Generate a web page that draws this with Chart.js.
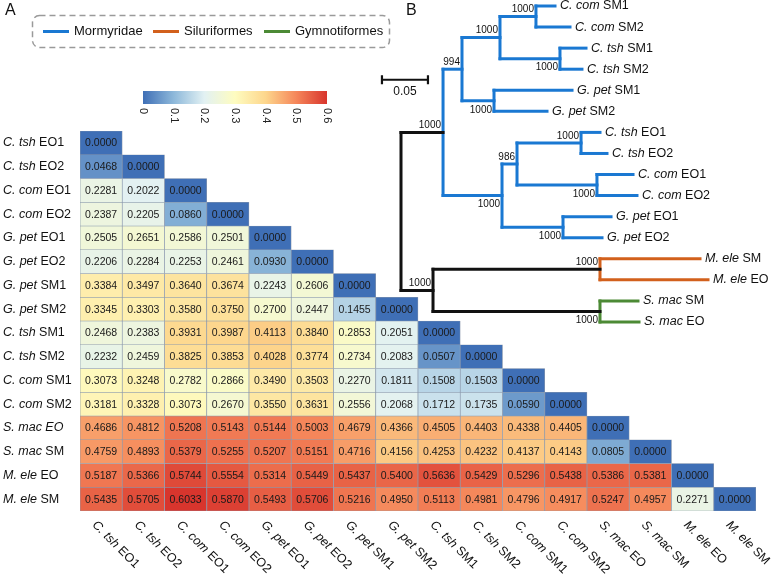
<!DOCTYPE html>
<html>
<head>
<meta charset="utf-8">
<script src="https://cdn.jsdelivr.net/npm/chart.js@4.4.1/dist/chart.umd.min.js"></script>
<style>
html, body { margin: 0; padding: 0; background: #fff; }
#wrap { position: relative; width: 772px; height: 575px; }
#wrap canvas { position: absolute; left: 0; top: 0; }
</style>
</head>
<body>
<div id="wrap">
    <canvas id="heat" width="772" height="575"></canvas>
    <canvas id="tree" width="772" height="340"></canvas>
</div>
<script>
// ---------- data: heatmap (panel A) ----------
var samples = ['C. tsh EO1', 'C. tsh EO2', 'C. com EO1', 'C. com EO2', 'G. pet EO1', 'G. pet EO2',
    'G. pet SM1', 'G. pet SM2', 'C. tsh SM1', 'C. tsh SM2', 'C. com SM1', 'C. com SM2',
    'S. mac EO', 'S. mac SM', 'M. ele EO', 'M. ele SM'];
var rowAllItalic = ['S. mac EO'];

var dist = [
    [0.0000],
    [0.0468, 0.0000],
    [0.2281, 0.2022, 0.0000],
    [0.2387, 0.2205, 0.0860, 0.0000],
    [0.2505, 0.2651, 0.2586, 0.2501, 0.0000],
    [0.2206, 0.2284, 0.2253, 0.2461, 0.0930, 0.0000],
    [0.3384, 0.3497, 0.3640, 0.3674, 0.2243, 0.2606, 0.0000],
    [0.3345, 0.3303, 0.3580, 0.3750, 0.2700, 0.2447, 0.1455, 0.0000],
    [0.2468, 0.2383, 0.3931, 0.3987, 0.4113, 0.3840, 0.2853, 0.2051, 0.0000],
    [0.2232, 0.2459, 0.3825, 0.3853, 0.4028, 0.3774, 0.2734, 0.2083, 0.0507, 0.0000],
    [0.3073, 0.3248, 0.2782, 0.2866, 0.3490, 0.3503, 0.2270, 0.1811, 0.1508, 0.1503, 0.0000],
    [0.3181, 0.3328, 0.3073, 0.2670, 0.3550, 0.3631, 0.2556, 0.2068, 0.1712, 0.1735, 0.0590, 0.0000],
    [0.4686, 0.4812, 0.5208, 0.5143, 0.5144, 0.5003, 0.4679, 0.4366, 0.4505, 0.4403, 0.4338, 0.4405, 0.0000],
    [0.4759, 0.4893, 0.5379, 0.5255, 0.5207, 0.5151, 0.4716, 0.4156, 0.4253, 0.4232, 0.4137, 0.4143, 0.0805, 0.0000],
    [0.5187, 0.5366, 0.5744, 0.5554, 0.5314, 0.5449, 0.5437, 0.5400, 0.5636, 0.5429, 0.5296, 0.5438, 0.5386, 0.5381, 0.0000],
    [0.5435, 0.5705, 0.6033, 0.5870, 0.5493, 0.5706, 0.5216, 0.4950, 0.5113, 0.4981, 0.4796, 0.4917, 0.5247, 0.4957, 0.2271, 0.0000]
];

var colorbarTicks = [0, 0.1, 0.2, 0.3, 0.4, 0.5, 0.6];
var cmapStops = [0, 0.1, 0.2, 0.3, 0.4, 0.5, 0.6];
var cmapColors = ['#3f6fb6', '#8db8da', '#e2f1f3', '#fefcc0', '#fdd68c', '#f5865a', '#d8352d'];

// ---------- data: tree (panel B) ----------
var tipNames = ['C. com SM1', 'C. com SM2', 'C. tsh SM1', 'C. tsh SM2', 'G. pet SM1', 'G. pet SM2',
    'C. tsh EO1', 'C. tsh EO2', 'C. com EO1', 'C. com EO2', 'G. pet EO1', 'G. pet EO2',
    'M. ele SM', 'M. ele EO', 'S. mac SM', 'S. mac EO'];
var tipParent = ['ccomSM', 'ccomSM', 'ctshSM', 'ctshSM', 'gpetSM', 'gpetSM', 'ctshEO', 'ctshEO',
    'ccomEO', 'ccomEO', 'gpetEO', 'gpetEO', 'mele', 'mele', 'smac', 'smac'];
var tipDepth = [0.1674, 0.1837, 0.2011, 0.1967, 0.1859, 0.1587, 0.2163, 0.2239,
    0.2522, 0.2565, 0.2283, 0.2185, 0.3250, 0.3337, 0.2576, 0.2587];

var nodeNames = ['root', 'out', 'mele', 'smac', 'morm', 'sm', 'smCC', 'ccomSM', 'ctshSM', 'gpetSM', 'eo', 'eo986', 'ctshEO', 'ccomEO', 'gpetEO'];
var nodeParent = [null, 'root', 'out', 'out', 'root', 'morm', 'sm', 'smCC', 'smCC', 'sm', 'morm', 'eo', 'eo986', 'eo986', 'eo'];
var nodeDepth = [0, 0.0348, 0.2163, 0.2163, 0.0457, 0.0663, 0.1076, 0.1467, 0.1728, 0.1011, 0.1098, 0.1261, 0.1957, 0.2130, 0.1761];
var nodeSupport = [null, 1000, 1000, 1000, 1000, 994, 1000, 1000, 1000, 1000, 1000, 986, 1000, 1000, 1000];
var supportSide = [null, 'up', 'up', 'down', 'up', 'up', 'up', 'up', 'down', 'down', 'down', 'up', 'up', 'down', 'down'];

var clades = ['Mormyridae', 'Siluriformes', 'Gymnotiformes'];
var cladeNode = ['morm', 'mele', 'smac'];
var cladeColors = ['#1a78d2', '#d2601c', '#4c8a35'];

var scaleBarLen = 0.05;
var scaleBarPos = [-0.0207, 3.5];

var FONT = "'Liberation Sans', Arial, sans-serif";

// ---------- helpers ----------
function hexRgb(h) {
    return [parseInt(h.substr(1, 2), 16), parseInt(h.substr(3, 2), 16), parseInt(h.substr(5, 2), 16)];
}
function heatColor(v) {
    var i = 0;
    while (i < cmapStops.length - 2 && v > cmapStops[i + 1]) i++;
    var t = (v - cmapStops[i]) / (cmapStops[i + 1] - cmapStops[i]);
    t = Math.max(0, Math.min(1, t));
    var a = hexRgb(cmapColors[i]), b = hexRgb(cmapColors[i + 1]);
    return 'rgb(' + a.map(function (c, k) { return Math.round(c + (b[k] - c) * t); }).join(',') + ')';
}
// "C. tsh EO1" -> italic "C. tsh" + upright " EO1"
function drawName(ctx, text, x, y, size, allItalic) {
    var cut = text.lastIndexOf(' ');
    var head = allItalic ? text : text.slice(0, cut);
    var tail = allItalic ? '' : text.slice(cut);
    ctx.font = 'italic ' + size + 'px ' + FONT;
    ctx.fillText(head, x, y);
    var w = ctx.measureText(head).width;
    ctx.font = size + 'px ' + FONT;
    ctx.fillText(tail, x + w, y);
}

// ---------- panel A: heatmap ----------
var heatSets = samples.map(function (name, i) {
    return {
        label: name,
        data: samples.map(function (c, j) { return j <= i ? [i, i + 1] : null; }),
        backgroundColor: function (ctx) {
            var v = dist[i][ctx.dataIndex];
            return v === undefined ? 'rgba(0,0,0,0)' : heatColor(v);
        },
        borderColor: '#8d9aae',
        borderWidth: 0.7,
        borderSkipped: false,
        grouped: false,
        barPercentage: 1,
        categoryPercentage: 1
    };
});

var heatDecor = {
    id: 'heatDecor',
    afterDatasetsDraw: function (chart) {
        var ctx = chart.ctx;
        ctx.save();
        ctx.fillStyle = '#1a1a1a';
        ctx.font = '10.5px ' + FONT;
        ctx.textAlign = 'center';
        ctx.textBaseline = 'middle';
        chart.data.datasets.forEach(function (ds, i) {
            chart.getDatasetMeta(i).data.forEach(function (el, j) {
                if (j > i) return;
                ctx.fillText(dist[i][j].toFixed(4), el.x, (el.y + el.base) / 2 + 0.5);
            });
        });
        ctx.restore();
    },
    afterDraw: function (chart) {
        var ctx = chart.ctx, xs = chart.scales.x, ys = chart.scales.y;
        ctx.save();
        ctx.fillStyle = '#111';
        ctx.textBaseline = 'middle';
        ctx.textAlign = 'left';

        // row labels
        samples.forEach(function (name, i) {
            drawName(ctx, name, 3, ys.getPixelForValue(i + 0.5), 12.5, rowAllItalic.indexOf(name) !== -1);
        });
        // column labels, rotated
        samples.forEach(function (name, j) {
            ctx.save();
            ctx.translate(xs.getPixelForValue(j) - 7, chart.chartArea.bottom + 12);
            ctx.rotate(Math.PI / 4);
            drawName(ctx, name, 0, 0, 12.5, false);
            ctx.restore();
        });

        // colour bar
        var cbL = 143, cbR = 327, cbT = 91, cbB = 104;
        var g = ctx.createLinearGradient(cbL, 0, cbR, 0);
        cmapStops.forEach(function (s, k) { g.addColorStop(s / 0.6, cmapColors[k]); });
        ctx.fillStyle = g;
        ctx.fillRect(cbL, cbT, cbR - cbL, cbB - cbT);
        ctx.fillStyle = '#222';
        ctx.font = '11px ' + FONT;
        colorbarTicks.forEach(function (t) {
            ctx.save();
            ctx.translate(cbL + (cbR - cbL) * t / 0.6, cbB + 4);
            ctx.rotate(Math.PI / 2);
            ctx.textAlign = 'left';
            ctx.fillText(String(t), 0, 0);
            ctx.restore();
        });

        // clade legend in a dashed box
        ctx.strokeStyle = '#9a9a9a';
        ctx.lineWidth = 1.5;
        ctx.setLineDash([6, 4]);
        ctx.beginPath();
        ctx.roundRect(32.5, 15.5, 357, 32, 7);
        ctx.stroke();
        ctx.setLineDash([]);
        var lx = [43, 153, 264];
        ctx.font = '13px ' + FONT;
        clades.forEach(function (c, k) {
            ctx.strokeStyle = cladeColors[k];
            ctx.lineWidth = 3;
            ctx.beginPath();
            ctx.moveTo(lx[k], 31.5);
            ctx.lineTo(lx[k] + 26, 31.5);
            ctx.stroke();
            ctx.fillStyle = '#111';
            ctx.fillText(c, lx[k] + 31, 31.5);
        });

        ctx.font = '16px ' + FONT;
        ctx.fillText('A', 5, 11);
        ctx.restore();
    }
};

new Chart(document.getElementById('heat'), {
    type: 'bar',
    data: { labels: samples, datasets: heatSets },
    options: {
        responsive: false,
        animation: false,
        layout: { padding: { left: 80, top: 131, right: 16, bottom: 64 } },
        scales: {
            x: { display: false },
            y: { display: false, min: 0, max: samples.length, reverse: true }
        },
        plugins: { legend: { display: false }, tooltip: { enabled: false } }
    },
    plugins: [heatDecor]
});

// ---------- panel B: tree ----------
function depthOf(n) {
    var k = nodeNames.indexOf(n);
    return k !== -1 ? nodeDepth[k] : tipDepth[tipNames.indexOf(n)];
}
function parentOf(n) {
    var k = nodeNames.indexOf(n);
    return k !== -1 ? nodeParent[k] : tipParent[tipNames.indexOf(n)];
}
function childrenOf(n) {
    var out = [];
    nodeNames.forEach(function (m, k) { if (nodeParent[k] === n) out.push(m); });
    tipNames.forEach(function (t, k) { if (tipParent[k] === n) out.push(t); });
    return out;
}
function yOf(n) {
    var t = tipNames.indexOf(n);
    if (t !== -1) return t;
    var ys = childrenOf(n).map(yOf);
    return (Math.min.apply(null, ys) + Math.max.apply(null, ys)) / 2;
}
function colorOf(n) {
    while (n) {
        var c = cladeNode.indexOf(n);
        if (c !== -1) return cladeColors[c];
        n = parentOf(n);
    }
    return '#111';
}
function segment(x0, y0, x1, y1, color) {
    return {
        data: [{ x: x0, y: y0 }, { x: x1, y: y1 }],
        showLine: true, borderColor: color, borderWidth: 3,
        borderCapStyle: 'square', pointRadius: 0, clip: 10
    };
}

var treeSets = [];
nodeNames.concat(tipNames).forEach(function (n) {
    var p = parentOf(n);
    if (!p) return;
    treeSets.push(segment(depthOf(p), yOf(n), depthOf(n), yOf(n), colorOf(p)));
});
nodeNames.forEach(function (n) {
    var ys = childrenOf(n).map(yOf);
    treeSets.push(segment(depthOf(n), Math.min.apply(null, ys), depthOf(n), Math.max.apply(null, ys), colorOf(n)));
});

var treeDecor = {
    id: 'treeDecor',
    afterDraw: function (chart) {
        var ctx = chart.ctx, xs = chart.scales.x, ys = chart.scales.y;
        ctx.save();
        ctx.fillStyle = '#111';
        ctx.textBaseline = 'middle';
        ctx.textAlign = 'left';
        tipNames.forEach(function (t, k) {
            drawName(ctx, t, xs.getPixelForValue(tipDepth[k]) + 5, ys.getPixelForValue(k), 12.5, false);
        });

        ctx.font = '10px ' + FONT;
        ctx.textAlign = 'right';
        nodeNames.forEach(function (n, k) {
            if (nodeSupport[k] == null) return;
            var px = xs.getPixelForValue(nodeDepth[k]) - 2;
            var py = ys.getPixelForValue(yOf(n)) + (supportSide[k] === 'up' ? -7 : 9);
            ctx.fillText(String(nodeSupport[k]), px, py);
        });

        // scale bar
        var sx0 = xs.getPixelForValue(scaleBarPos[0]);
        var sx1 = xs.getPixelForValue(scaleBarPos[0] + scaleBarLen);
        var sy = ys.getPixelForValue(scaleBarPos[1]);
        ctx.strokeStyle = '#111';
        ctx.lineWidth = 2.2;
        ctx.beginPath();
        ctx.moveTo(sx0, sy); ctx.lineTo(sx1, sy);
        ctx.moveTo(sx0, sy - 4.5); ctx.lineTo(sx0, sy + 4.5);
        ctx.moveTo(sx1, sy - 4.5); ctx.lineTo(sx1, sy + 4.5);
        ctx.stroke();
        ctx.textAlign = 'center';
        ctx.font = '12px ' + FONT;
        ctx.fillText(String(scaleBarLen), (sx0 + sx1) / 2, sy + 12);

        ctx.textAlign = 'left';
        ctx.font = '16px ' + FONT;
        ctx.fillText('B', 406, 11);
        ctx.restore();
    }
};

new Chart(document.getElementById('tree'), {
    type: 'scatter',
    data: { datasets: treeSets },
    options: {
        responsive: false,
        animation: false,
        layout: { padding: { left: 355, right: 3, top: 6, bottom: 18 } },
        scales: {
            x: { display: false, type: 'linear', min: -0.05, max: 0.40 },
            y: { display: false, min: 0, max: tipNames.length - 1, reverse: true }
        },
        plugins: { legend: { display: false }, tooltip: { enabled: false } }
    },
    plugins: [treeDecor]
});
</script>
</body>
</html>
